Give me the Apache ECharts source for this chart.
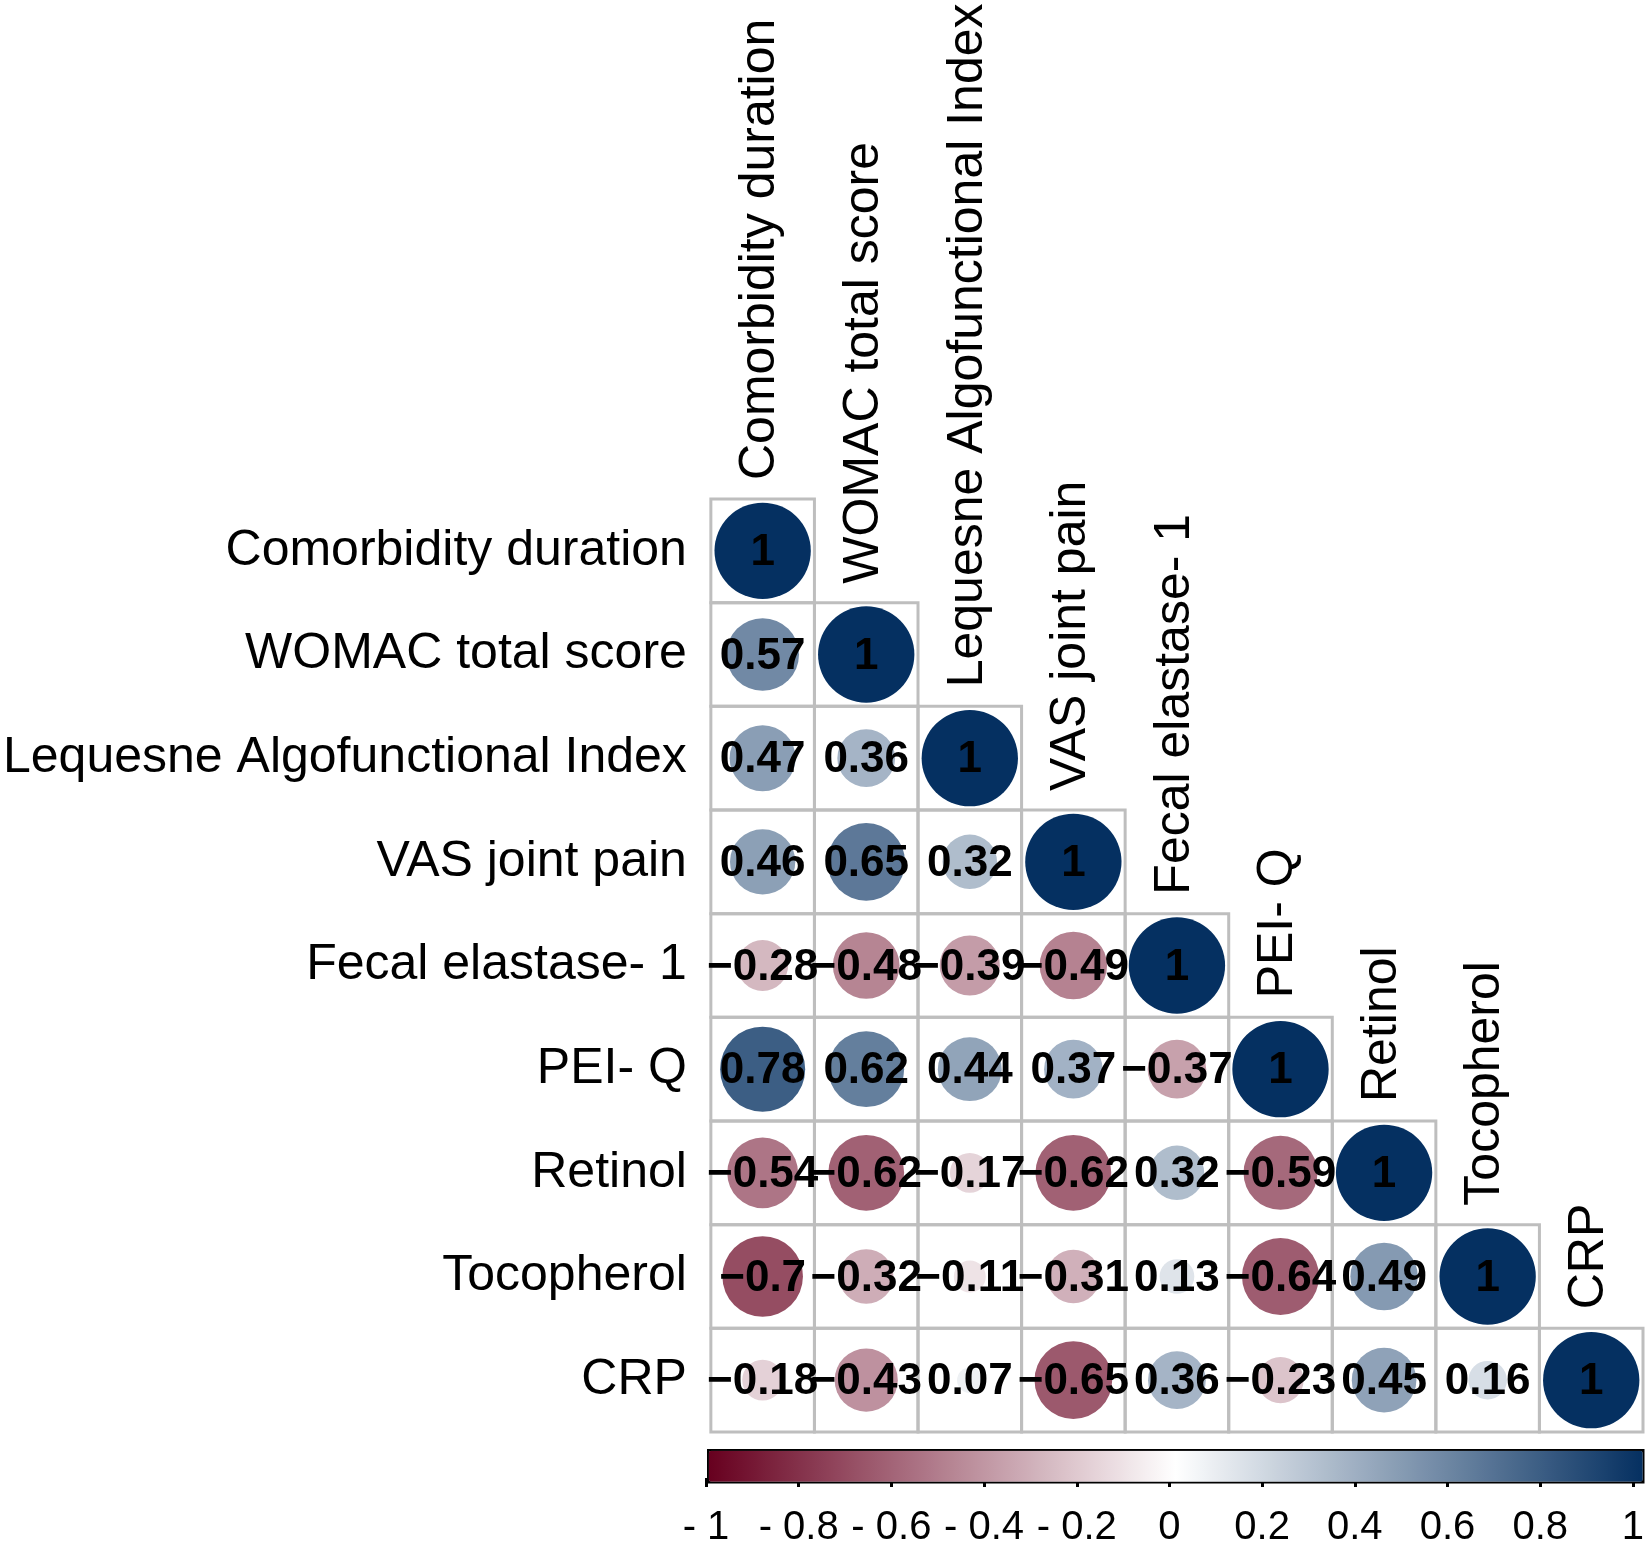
<!DOCTYPE html>
<html>
<head>
<meta charset="utf-8">
<script src="https://cdn.jsdelivr.net/npm/echarts@6/dist/echarts.min.js"></script>
<style>
    html, body { margin: 0; padding: 0; background: #fff; }
    #grafico { width: 1647px; height: 1548px; }
</style>
</head>
<body>
<div id="grafico"></div>
<script>
var variaveis = ['Comorbidity duration', 'WOMAC total score', 'Lequesne Algofunctional Index', 'VAS joint pain',
    'Fecal elastase- 1', 'PEI- Q', 'Retinol', 'Tocopherol', 'CRP'];

// triangulo inferior da matriz de correlacao, uma linha por variavel
var linhaComorbidity = [1];
var linhaWomac = [0.57, 1];
var linhaLequesne = [0.47, 0.36, 1];
var linhaVas = [0.46, 0.65, 0.32, 1];
var linhaFecal = [-0.28, -0.48, -0.39, -0.49, 1];
var linhaPeiq = [0.78, 0.62, 0.44, 0.37, -0.37, 1];
var linhaRetinol = [-0.54, -0.62, -0.17, -0.62, 0.32, -0.59, 1];
var linhaTocopherol = [-0.7, -0.32, -0.11, -0.31, 0.13, -0.64, 0.49, 1];
var linhaCrp = [-0.18, -0.43, 0.07, -0.65, 0.36, -0.23, 0.45, 0.16, 1];

var escalaTicks = ['- 1', '- 0.8', '- 0.6', '- 0.4', '- 0.2', '0', '0.2', '0.4', '0.6', '0.8', '1'];

var linhas = [linhaComorbidity, linhaWomac, linhaLequesne, linhaVas, linhaFecal,
    linhaPeiq, linhaRetinol, linhaTocopherol, linhaCrp];

var celulas = [];
linhas.forEach(function (linha, i) {
    linha.forEach(function (valor, j) {
        celulas.push([j, i, valor]);
    });
});

var diagonal = variaveis.map(function (nome, j) {
    return [j, j, nome];
});

var fonte = '"Liberation Sans", Arial, Helvetica, sans-serif';

function formatar(valor) {
    return String(valor).replace('-', '\u2212');
}

var dom = document.getElementById('grafico');
var chart = echarts.init(dom, null, { renderer: 'canvas' });

chart.setOption({
    animation: false,
    grid: [
        { left: 706, top: 499, width: 937, height: 933 },
        { left: 706, top: 1448, width: 937, height: 34 }
    ],
    xAxis: [
        {
            type: 'category',
            gridIndex: 0,
            data: variaveis,
            axisLine: { show: false },
            axisTick: { show: false },
            axisLabel: { show: false },
            splitLine: { show: false }
        },
        {
            type: 'value',
            gridIndex: 1,
            min: -1,
            max: 1,
            interval: 0.2,
            axisLine: { show: false },
            axisTick: { show: true, length: 9, lineStyle: { color: '#000', width: 3 } },
            splitLine: { show: false },
            axisLabel: {
                margin: 30,
                fontSize: 40,
                fontFamily: fonte,
                color: '#000',
                formatter: function (v) {
                    return escalaTicks[Math.round((v + 1) / 0.2)];
                }
            }
        }
    ],
    yAxis: [
        {
            type: 'category',
            gridIndex: 0,
            inverse: true,
            data: variaveis,
            axisLine: { show: false },
            axisTick: { show: false },
            splitLine: { show: false },
            axisLabel: { margin: 24, fontSize: 50, fontFamily: fonte, color: '#000' }
        },
        { type: 'value', gridIndex: 1, show: false }
    ],
    visualMap: {
        type: 'continuous',
        min: -1,
        max: 1,
        seriesIndex: 1,
        dimension: 2,
        orient: 'horizontal',
        left: 707,
        top: 1449,
        itemWidth: 31,
        itemHeight: 934,
        padding: 0,
        calculable: false,
        hoverLink: false,
        borderColor: '#000',
        borderWidth: 3.5,
        inRange: { color: ['#67001F', '#FFFFFF', '#053061'] }
    },
    series: [
        {
            // bordas das celulas
            type: 'custom',
            data: celulas,
            z: 1,
            renderItem: function (params, api) {
                var c = api.coord([api.value(0), api.value(1)]);
                var s = api.size([1, 1]);
                return {
                    type: 'rect',
                    shape: { x: c[0] - s[0] / 2, y: c[1] - s[1] / 2, width: s[0], height: s[1] },
                    style: { fill: null, stroke: '#bebebe', lineWidth: 3 }
                };
            }
        },
        {
            // circulos, area proporcional a |r|
            type: 'custom',
            data: celulas,
            z: 2,
            renderItem: function (params, api) {
                var c = api.coord([api.value(0), api.value(1)]);
                var s = api.size([1, 1]);
                var raio = Math.sqrt(Math.abs(api.value(2))) * Math.min(s[0], s[1]) * 0.465;
                return {
                    type: 'circle',
                    shape: { cx: c[0], cy: c[1], r: raio },
                    style: { fill: api.visual('color') }
                };
            }
        },
        {
            // coeficientes
            type: 'custom',
            data: celulas,
            z: 3,
            renderItem: function (params, api) {
                var c = api.coord([api.value(0), api.value(1)]);
                return {
                    type: 'text',
                    x: c[0],
                    y: c[1] + 2,
                    style: {
                        text: formatar(api.value(2)),
                        fill: '#000',
                        fontSize: 44,
                        fontWeight: 'bold',
                        fontFamily: fonte,
                        align: 'center',
                        verticalAlign: 'middle'
                    }
                };
            }
        },
        {
            // nomes das colunas sobre a diagonal
            type: 'custom',
            data: diagonal,
            z: 3,
            renderItem: function (params, api) {
                var j = params.dataIndex;
                var c = api.coord([j, j]);
                var s = api.size([1, 1]);
                return {
                    type: 'text',
                    x: c[0] - 2,
                    y: c[1] - s[1] / 2 - 19,
                    rotation: Math.PI / 2,
                    style: {
                        text: variaveis[j],
                        fill: '#000',
                        fontSize: 50,
                        fontFamily: fonte,
                        align: 'left',
                        verticalAlign: 'middle'
                    }
                };
            }
        }
    ]
});

window.addEventListener('resize', chart.resize);
</script>
</body>
</html>
